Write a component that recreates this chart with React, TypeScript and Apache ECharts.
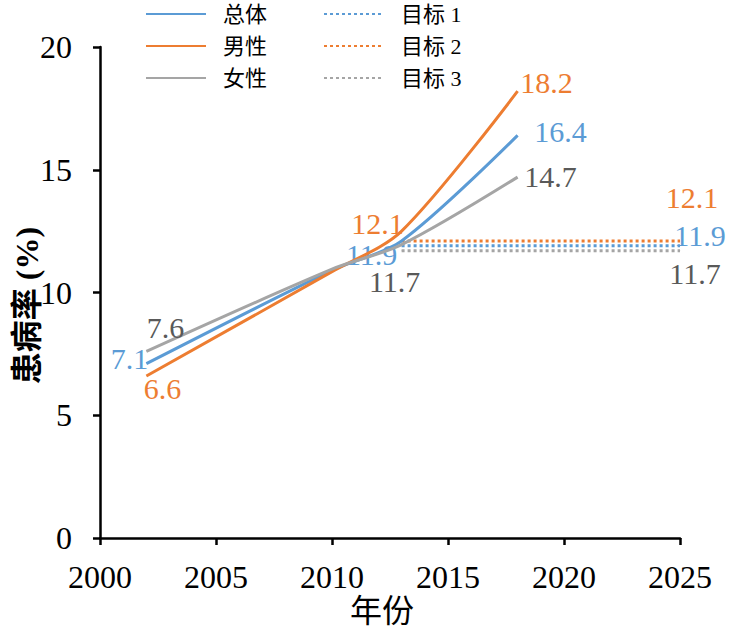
import React, { useEffect, useRef } from "react";
import * as echarts from "echarts";

const years = [2002, 2010, 2013, 2018];
const overall = [7.1, 10.9, 12.1, 16.4];
const male = [6.6, 10.85, 12.5, 18.2];
const female = [7.6, 10.95, 11.95, 14.7];
const targetYears = [2013, 2025];
const target1 = [11.9, 11.9];
const target2 = [12.1, 12.1];
const target3 = [11.7, 11.7];
const xTicks = { min: 2000, max: 2025, interval: 5 };
const yTicks = { min: 0, max: 20, interval: 5 };

const BLUE = "#5B9BD5";
const ORANGE = "#ED7D31";
const GRAY = "#A5A5A5";
const GRAY_TXT = "#595959";
const SERIF = "Liberation Serif";
const CJK = "'Liberation Serif', 'Noto Sans CJK SC', sans-serif";

// label offsets per point (index -> [dx, dy]); null = no label
const overallLbl: (number[] | null)[] = [[-17, -5], null, null, [43, -4]];
const maleLbl: (number[] | null)[] = [[16, 13], null, null, [29, -9]];
const femaleLbl: (number[] | null)[] = [[19, -24], null, null, [33, -1]];
const t1Lbl: (number[] | null)[] = [[-30, 9], [20, -10]];
const t2Lbl: (number[] | null)[] = [[-24, -17], [12, -43]];
const t3Lbl: (number[] | null)[] = [[-7, 31], [15, 23]];

function build(xs: number[], ys: number[], offs: (number[] | null)[], txtColor: string) {
  return xs.map((x, i) => {
    const o = offs[i];
    return {
      value: [x, ys[i]],
      label: o
        ? {
            show: true,
            position: "inside",
            offset: o,
            color: txtColor,
            fontSize: 30,
            fontFamily: SERIF,
            formatter: (p: any) => String(p.value[1]),
          }
        : { show: false },
    };
  });
}

function solid(name: string, color: string, xs: number[], ys: number[], offs: (number[] | null)[], txt: string) {
  return {
    name,
    type: "line",
    smooth: 0.3,
    symbol: "circle",
    symbolSize: 0.5,
    showSymbol: true,
    itemStyle: { color },
    lineStyle: { color, width: 3 },
    data: build(xs, ys, offs, txt),
    z: 3,
  };
}

function dotted(name: string, color: string, xs: number[], ys: number[], offs: (number[] | null)[], txt: string) {
  return {
    name,
    type: "line",
    symbol: "circle",
    symbolSize: 0.5,
    showSymbol: true,
    itemStyle: { color },
    lineStyle: { color, width: 3, type: [3, 3] },
    data: build(xs, ys, offs, txt),
    z: 2,
  };
}

export default function App() {
  const ref = useRef<HTMLDivElement>(null);
  useEffect(() => {
    document.body.style.margin = "0";
    if (!ref.current) return;
    const chart = echarts.init(ref.current, undefined, { renderer: "svg" });
    const legendText = { fontSize: 22, fontFamily: CJK, color: "#000", padding: [0, 0, 0, 12] };
    const legendBase = {
      orient: "vertical",
      top: -2,
      itemWidth: 60,
      itemHeight: 10,
      itemGap: 10,
      textStyle: legendText,
      itemStyle: { opacity: 0 },
    };
    chart.setOption({
      animation: false,
      backgroundColor: "#fff",
      grid: {
        left: 100,
        right: 55,
        top: 47,
        bottom: 94,
        containLabel: false,
        outerBoundsMode: "none",
      },
      legend: [
        { ...legendBase, data: ["总体", "男性", "女性"], left: 140 },
        { ...legendBase, data: ["目标 1", "目标 2", "目标 3"], left: 318 },
      ],
      xAxis: {
        type: "value",
        min: xTicks.min,
        max: xTicks.max,
        interval: xTicks.interval,
        name: "年份",
        nameLocation: "middle",
        nameGap: 57,
        nameMoveOverlap: false,
        nameTextStyle: {
          fontSize: 32,
          fontFamily: CJK,
          color: "#000",
          padding: [0, 16, 0, 0],
        },
        axisLine: { lineStyle: { color: "#000", width: 2.5 } },
        axisTick: { show: true, length: 7, lineStyle: { color: "#000", width: 2.5 } },
        axisLabel: {
          fontSize: 32,
          fontFamily: SERIF,
          color: "#000",
          margin: 23,
          formatter: (v: number) => String(v),
        },
        splitLine: { show: false },
      },
      yAxis: {
        type: "value",
        min: yTicks.min,
        max: yTicks.max,
        interval: yTicks.interval,
        name: "患病率 (%)",
        nameLocation: "middle",
        nameGap: 57,
        nameMoveOverlap: false,
        nameTextStyle: {
          fontSize: 32,
          fontWeight: "bold",
          fontFamily: CJK,
          color: "#000",
          padding: [0, 26, 0, 0],
        },
        axisLine: { show: true, lineStyle: { color: "#000", width: 2.5 } },
        axisTick: { show: true, length: 7, lineStyle: { color: "#000", width: 2.5 } },
        axisLabel: { fontSize: 32, fontFamily: SERIF, color: "#000", margin: 28 },
        splitLine: { show: false },
      },
      series: [
        solid("总体", BLUE, years, overall, overallLbl, BLUE),
        solid("男性", ORANGE, years, male, maleLbl, ORANGE),
        solid("女性", GRAY, years, female, femaleLbl, GRAY_TXT),
        dotted("目标 1", BLUE, targetYears, target1, t1Lbl, BLUE),
        dotted("目标 2", ORANGE, targetYears, target2, t2Lbl, ORANGE),
        dotted("目标 3", GRAY, targetYears, target3, t3Lbl, GRAY_TXT),
      ],
    });
    return () => chart.dispose();
  }, []);
  return <div ref={ref} style={{ width: 735, height: 632 }} />;
}
